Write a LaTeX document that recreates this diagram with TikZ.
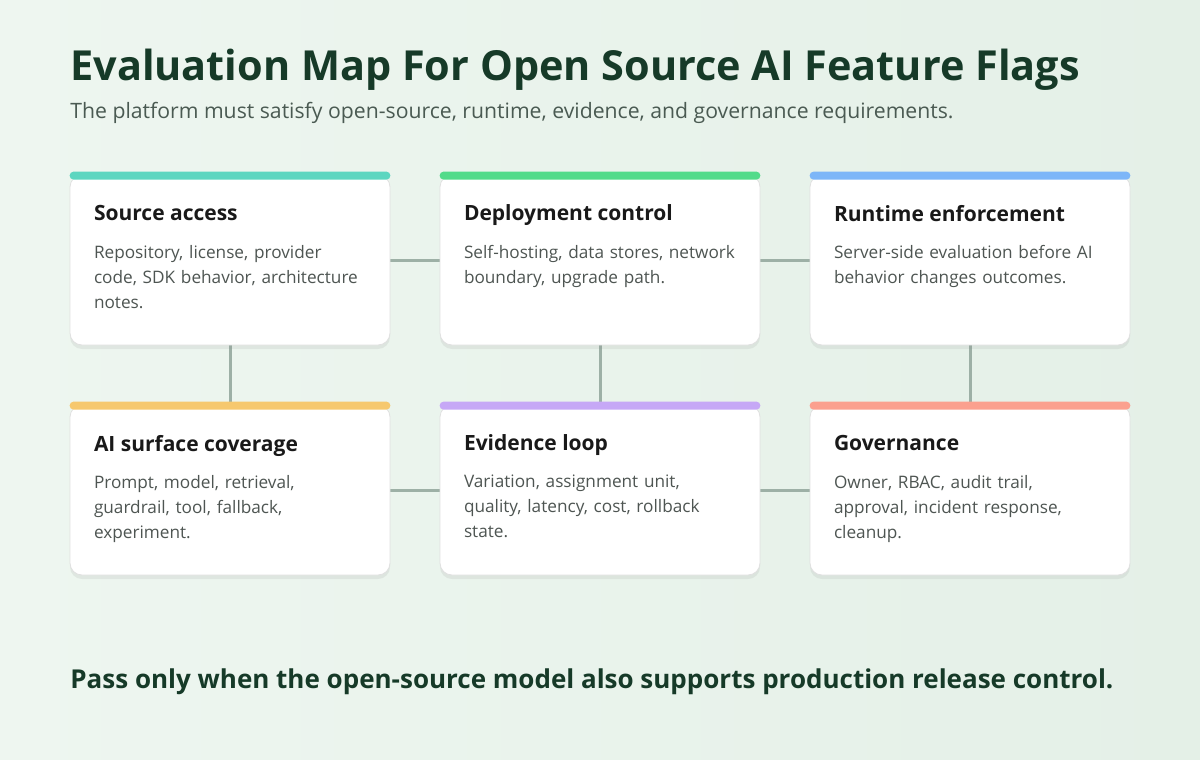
\documentclass[tikz,border=0pt]{standalone}
\usepackage{fontspec}
\setmainfont{Open Sans}
\usepackage{tikz}
\usetikzlibrary{positioning}
\usetikzlibrary{shadows}

\definecolor{inkGreen}{HTML}{163A28}
\definecolor{subGray}{HTML}{4A5A52}
\definecolor{bodyGray}{HTML}{4E5552}
\definecolor{linkGray}{HTML}{9DB0A6}
\definecolor{bgLeft}{HTML}{EEF6F0}
\definecolor{bgRight}{HTML}{E4F0E7}
\definecolor{barTeal}{HTML}{5DD6C0}
\definecolor{barGreen}{HTML}{52DB8A}
\definecolor{barBlue}{HTML}{7DB6F8}
\definecolor{barYellow}{HTML}{F6C86E}
\definecolor{barViolet}{HTML}{C6A8F6}
\definecolor{barRed}{HTML}{FBA08E}

\hyphenpenalty=10000
\exhyphenpenalty=10000

\tikzset{
  card/.style={draw=black!12,fill=white,rectangle,rounded corners=6pt,minimum width=160pt,minimum height=85pt,drop shadow={shadow xshift=0pt,shadow yshift=-2pt,opacity=0.12}},
  cardHead/.style={anchor=north west,text=black!90,font=\bfseries\fontsize{10.5}{12}\selectfont,inner sep=0pt},
  cardBody/.style={anchor=north west,text=bodyGray,font=\fontsize{8.6}{12.5}\selectfont,text width=138pt,align=left,inner sep=0pt},
  link/.style={draw=linkGray,line width=1.5pt}
}

\newcommand{\cardbox}[5]{%
  \node[card] (#1) at (#2) {};
  \fill[#3] ([yshift=1.5pt]#1.north west) [rounded corners=2pt] rectangle ([yshift=-2.5pt]#1.north east);
  \node[cardHead] (#1Head) at ([xshift=12pt,yshift=-15pt]#1.north west) {#4};
  \node[cardBody] (#1Body) at ([xshift=12pt,yshift=-35pt]#1.north west) {#5};
}

\begin{document}
\begin{tikzpicture}[x=0.5pt,y=-0.5pt]
        \shade[left color=bgLeft,right color=bgRight] (0,0) rectangle (1200,760);
        \useasboundingbox (0,0) rectangle (1200,760);

        \node[anchor=west,text=inkGreen,font=\fontsize{20.7}{24}\selectfont\bfseries,inner sep=0pt] (title) at (70,70) {Evaluation Map For Open Source AI Feature Flags};
        \node[anchor=west,text=subGray,font=\fontsize{10.6}{12}\selectfont,inner sep=0pt] (subtitle) at (70,113) {The platform must satisfy open-source, runtime, evidence, and governance requirements.};

        % links first, cards on top
        \coordinate (srcC) at (230,260);
        \coordinate (depC) at (600,260);
        \coordinate (runC) at (970,260);
        \coordinate (aiC) at (230,490);
        \coordinate (eviC) at (600,490);
        \coordinate (govC) at (970,490);
        \draw[link] (srcC) -- (depC) -- (runC);
        \draw[link] (aiC) -- (eviC) -- (govC);
        \draw[link] (srcC) -- (aiC);
        \draw[link] (depC) -- (eviC);
        \draw[link] (runC) -- (govC);

        \cardbox{srcCard}{srcC}{barTeal}{Source access}{Repository, license, provider code, SDK behavior, architecture notes.}
        \cardbox{depCard}{depC}{barGreen}{Deployment control}{Self-hosting, data stores, network boundary, upgrade path.}
        \cardbox{runCard}{runC}{barBlue}{Runtime enforcement}{Server-side evaluation before AI behavior changes outcomes.}
        \cardbox{aiCard}{aiC}{barYellow}{AI surface coverage}{Prompt, model, retrieval, guardrail, tool, fallback, experiment.}
        \cardbox{eviCard}{eviC}{barViolet}{Evidence loop}{Variation, assignment unit, quality, latency, cost, rollback state.}
        \cardbox{govCard}{govC}{barRed}{Governance}{Owner, RBAC, audit trail, approval, incident response, cleanup.}

        \node[anchor=west,text=inkGreen,font=\fontsize{13}{15}\selectfont\bfseries,inner sep=0pt] (footer) at (70,682) {Pass only when the open-source model also supports production release control.};
\end{tikzpicture}
\end{document}
